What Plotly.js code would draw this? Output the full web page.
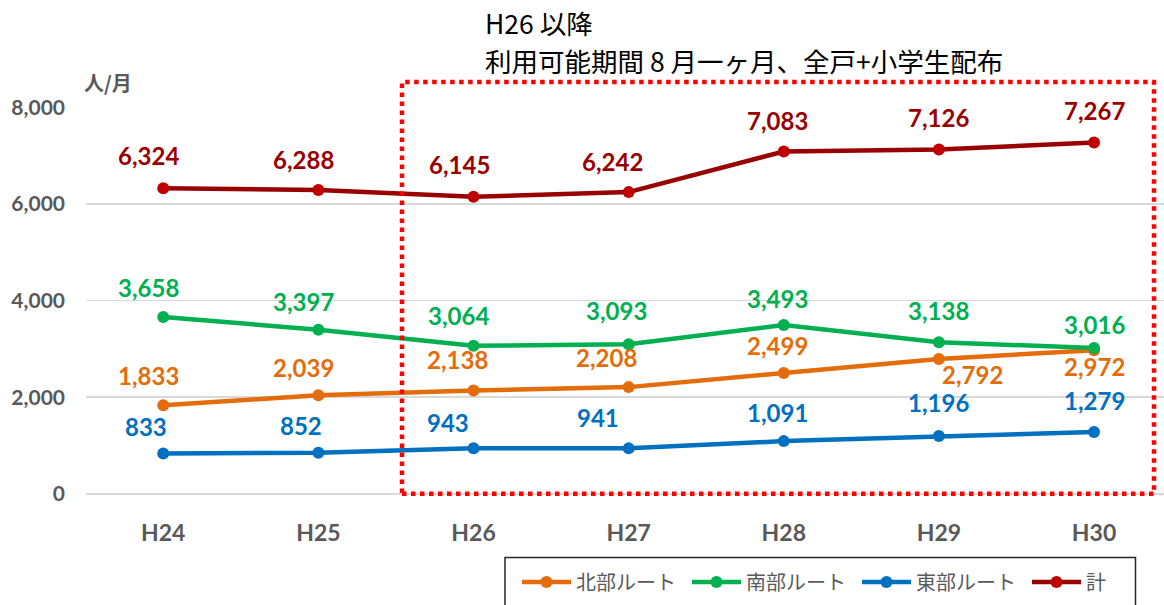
<!DOCTYPE html>
<html>
<head>
<meta charset="utf-8">
<script src="https://cdn.plot.ly/plotly-3.0.1.min.js"></script>
<style>html,body{margin:0;padding:0;background:#fff;}#chart{width:1164px;height:605px;}</style>
</head>
<body>
<div id="chart"></div>
<script>
// ---- data ----
const years = ['H24','H25','H26','H27','H28','H29','H30'];
const north = [1833, 2039, 2138, 2208, 2499, 2792, 2972];
const south = [3658, 3397, 3064, 3093, 3493, 3138, 3016];
const east  = [833, 852, 943, 941, 1091, 1196, 1279];
const total = [6324, 6288, 6145, 6242, 7083, 7126, 7267];
const seriesNames = ['北部ルート', '南部ルート', '東部ルート', '計'];
const yTicks = [0, 2000, 4000, 6000, 8000];
const unitLabel = '人/月';
const noteLine1 = 'H26 以降';
const noteLine2 = '利用可能期間 8 月一ヶ月、全戸+小学生配布';

// ---- label placement (pixel offsets from each point) ----
const labelDx = {
  north: [-15, -15, -16, -22, -6, 34, 0],
  south: [-14.5, -15, -15.5, -12, -6.5, 0, 0],
  east:  [-17, -17.6, -26, -31, -6.7, 0, 0],
  total: [-14.6, -15, -14, -16, -6, 0, 0]
};
const labelDy = {
  north: [-27.7, -25.7, -28.5, -27.3, -25, 18.4, 18.5],
  south: [-27.5, -26, -27.5, -31.5, -24.3, -29, -21],
  east:  [-25, -25, -23.7, -28.7, -26.4, -31.4, -29],
  total: [-30, -28, -30, -28, -28, -29, -30]
};
const labelBaselineAdj = 2.5;

// ---- geometry helpers ----
const W = 1164, H = 605;
const M = {l: 86, r: 0, t: 106.7, b: 110.7};
const PW = W - M.l - M.r, PH = H - M.t - M.b;
const px = x => (x - M.l) / PW;
const py = y => (H - M.b - y) / PH;

const fmt = v => v.toLocaleString('en-US');

const seriesDefs = [
  {key: 'north', data: north, name: seriesNames[0], line: '#E46C0A', marker: '#E46C0A', label: '#E46C0A'},
  {key: 'south', data: south, name: seriesNames[1], line: '#00B050', marker: '#00B050', label: '#00B050'},
  {key: 'east',  data: east,  name: seriesNames[2], line: '#0070C0', marker: '#0070C0', label: '#0070C0'},
  {key: 'total', data: total, name: seriesNames[3], line: '#990000', marker: '#C00000', label: '#990000'}
];

const traces = seriesDefs.map(s => ({
  type: 'scatter', mode: 'lines+markers',
  x: years, y: s.data, name: s.name,
  line: {color: s.line, width: 4.5},
  marker: {color: s.marker, size: 12},
  hoverinfo: 'skip'
}));

const annotations = [];
seriesDefs.forEach(s => {
  s.data.forEach((v, i) => {
    annotations.push({
      x: years[i], y: v, xref: 'x', yref: 'y',
      text: fmt(v), showarrow: false,
      xanchor: 'center', yanchor: 'middle',
      xshift: labelDx[s.key][i], yshift: -labelDy[s.key][i] + labelBaselineAdj,
      font: {family: 'Lato', size: 24, color: s.label, weight: 700}
    });
  });
});
annotations.push({
  xref: 'paper', yref: 'paper', x: px(82), y: py(82),
  xanchor: 'left', yanchor: 'middle', showarrow: false,
  text: unitLabel,
  font: {family: 'Noto Sans CJK JP', size: 20, color: '#595959', weight: 700}
});
annotations.push({
  xref: 'paper', yref: 'paper', x: px(483), y: py(22),
  xanchor: 'left', yanchor: 'middle', showarrow: false,
  text: noteLine1,
  font: {family: 'Noto Sans CJK JP', size: 26.5, color: '#000000'}
});
annotations.push({
  xref: 'paper', yref: 'paper', x: px(483), y: py(60),
  xanchor: 'left', yanchor: 'middle', showarrow: false,
  text: noteLine2,
  font: {family: 'Noto Sans CJK JP', size: 26.5, color: '#000000'}
});

const yTickFont = {family: 'Lato', size: 21, color: '#595959', weight: 700};
const xTickFont = {family: 'Lato', size: 23, color: '#595959', weight: 700};

const layout = {
  width: W, height: H,
  margin: {l: M.l, r: M.r, t: M.t, b: M.b, autoexpand: false},
  paper_bgcolor: '#ffffff', plot_bgcolor: '#ffffff',
  xaxis: {
    type: 'category', range: [-0.498, 6.451],
    showgrid: false, zeroline: false, showline: false, ticks: '',
    tickfont: xTickFont, ticklabelstandoff: 23
  },
  yaxis: {
    range: [-3, 8003], tickvals: yTicks, ticktext: yTicks.map(fmt),
    showgrid: true, gridcolor: '#D9D9D9', gridwidth: 1.5,
    zeroline: true, zerolinecolor: '#D9D9D9', zerolinewidth: 1.5,
    showline: false, ticks: '',
    tickfont: yTickFont, ticklabelstandoff: 20
  },
  showlegend: true,
  legend: {
    orientation: 'h', x: px(517), xanchor: 'left', y: py(563), yanchor: 'top',
    font: {family: 'Noto Sans CJK JP', size: 20, color: '#595959'},
    itemwidth: 49, entrywidth: 106, entrywidthmode: 'pixels',
    bgcolor: 'rgba(0,0,0,0)', borderwidth: 0, traceorder: 'normal'
  },
  shapes: [
    {type: 'rect', xref: 'paper', yref: 'paper',
     x0: px(402), x1: px(1154), y0: py(494), y1: py(81.7),
     line: {color: '#FF0000', width: 4.5, dash: 'dot'}, fillcolor: 'rgba(0,0,0,0)', layer: 'above'},
    {type: 'rect', xref: 'paper', yref: 'paper',
     x0: px(505), x1: px(1135.5), y0: py(612), y1: py(558),
     line: {color: '#262626', width: 1.5}, fillcolor: 'rgba(0,0,0,0)', layer: 'above'}
  ],
  annotations: annotations,
  hovermode: false
};

Plotly.newPlot('chart', traces, layout, {staticPlot: true, displayModeBar: false});
</script>
</body>
</html>
